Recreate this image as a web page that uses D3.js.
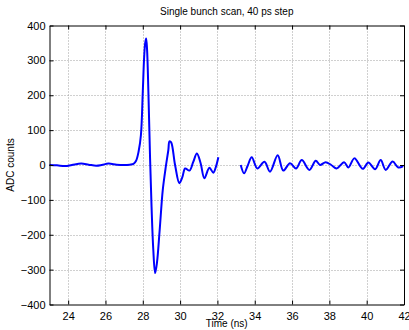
<!DOCTYPE html>
<html><head><meta charset="utf-8">
<script src="https://cdn.jsdelivr.net/npm/d3@7"></script>
<style>
body{margin:0;background:#fff;}
svg{display:block;font-family:"Liberation Sans",Arial,Helvetica,sans-serif;}
</style></head><body>
<svg id="c" width="409" height="330"></svg>
<script>
// Data (time in ns, ADC counts)
const seg1Time = [23.0,23.4,23.84,24.2,24.7,25.1,25.5,25.8,26.16,26.6,27.0,27.3,27.5,27.64,27.78,27.9,28.0,28.07,28.13,28.18,28.23,28.3,28.39,28.47,28.56,28.66,28.76,28.9,29.07,29.22,29.37,29.43,29.52,29.73,29.96,30.12,30.27,30.5,30.7,30.9,31.1,31.3,31.57,31.78,31.92,32.05];
const seg1Value = [0,-1,-3,0,4,1,-2,0,4,1,0,1,3,12,40,86,210,306,350,363,330,210,20,-120,-240,-310,-280,-190,-72,-10,43,68,65,0,-52,-35,-10,-16,8,33,5,-38,-8,-22,-5,22];
const seg2Time = [33.25,33.43,33.62,33.84,34.14,34.52,34.82,35.23,35.53,35.89,36.21,36.52,36.93,37.27,37.5,37.8,38.1,38.39,38.79,39.02,39.34,39.79,40.09,40.45,40.75,41.02,41.39,41.69,41.96];
const seg2Value = [0,-24,-2,22,-10,9,-19,28,-16,5,-10,14,-14,12,0,8,0,-10,8,-7,19,-11,7,-12,14,-14,10,-7,-3];
const xTicks = [24,26,28,30,32,34,36,38,40,42];
const yTicks = [-400,-300,-200,-100,0,100,200,300,400];
const titleText = "Single bunch scan, 40 ps step";
const xLabel = "Time (ns)";
const yLabel = "ADC counts";

const svg = d3.select("#c");
const L = 49.5, R = 404, T = 25.5, B = 304.5;
const x = d3.scaleLinear().domain([23,42]).range([L,R]);
const y = d3.scaleLinear().domain([-400,400]).range([B,T]);

// grid
const g = svg.append("g");
g.selectAll(".gx").data(xTicks.filter(t=>t>23&&t<42)).enter().append("line")
  .attr("x1",d=>Math.round(x(d))+0.5).attr("x2",d=>Math.round(x(d))+0.5)
  .attr("y1",T).attr("y2",B).attr("stroke","#a0a0a0").attr("stroke-width",1).attr("stroke-dasharray","1,2");
g.selectAll(".gy").data(yTicks.filter(t=>t>-400&&t<400)).enter().append("line")
  .attr("y1",d=>Math.round(y(d))+0.5).attr("y2",d=>Math.round(y(d))+0.5)
  .attr("x1",L).attr("x2",R).attr("stroke","#a0a0a0").attr("stroke-width",1).attr("stroke-dasharray","1,2");

// data lines
const line = d3.line().x(d=>x(d[0])).y(d=>y(d[1])).curve(d3.curveCatmullRom.alpha(0.5));
const s1 = seg1Time.map((t,i)=>[t,seg1Value[i]]);
const s2 = seg2Time.map((t,i)=>[t,seg2Value[i]]);
[s1,s2].forEach(s=>{
  svg.append("path").datum(s).attr("d",line).attr("fill","none")
    .attr("stroke","#0000ff").attr("stroke-width",2).attr("stroke-linejoin","round");
});

// axes (MATLAB style: inward ticks on all sides)
const axB = d3.axisBottom(x).tickValues(xTicks).tickSizeInner(-4).tickSizeOuter(0).tickPadding(8);
const axT = d3.axisTop(x).tickValues(xTicks).tickSizeInner(-4).tickSizeOuter(0).tickFormat("");
const axLft = d3.axisLeft(y).tickValues(yTicks).tickSizeInner(-4).tickSizeOuter(0).tickPadding(4);
const axRt = d3.axisRight(y).tickValues(yTicks).tickSizeInner(-4).tickSizeOuter(0).tickFormat("");
function style(sel){
  sel.select(".domain").attr("stroke","#000");
  sel.selectAll(".tick line").attr("stroke","#000");
  sel.selectAll("text").attr("fill","#000").style("font-size","11px");
}
svg.append("g").attr("transform",`translate(0,${B})`).call(axB).call(style);
svg.append("g").attr("transform",`translate(0,${T})`).call(axT).call(style);
svg.append("g").attr("transform",`translate(${L},0)`).call(axLft).call(style)
  .selectAll("text").text(d=>d<0?"\u2212"+Math.abs(d):d);
svg.append("g").attr("transform",`translate(${R},0)`).call(axRt).call(style);

svg.append("text").attr("x",(L+R)/2).attr("y",15).attr("text-anchor","middle")
  .style("font-size","10px").text(titleText);
svg.append("text").attr("x",(L+R)/2).attr("y",327).attr("text-anchor","middle")
  .style("font-size","10px").text(xLabel);
svg.append("text").attr("transform",`translate(14,${(T+B)/2}) rotate(-90)`).attr("text-anchor","middle")
  .style("font-size","10px").text(yLabel);
</script></body></html>
